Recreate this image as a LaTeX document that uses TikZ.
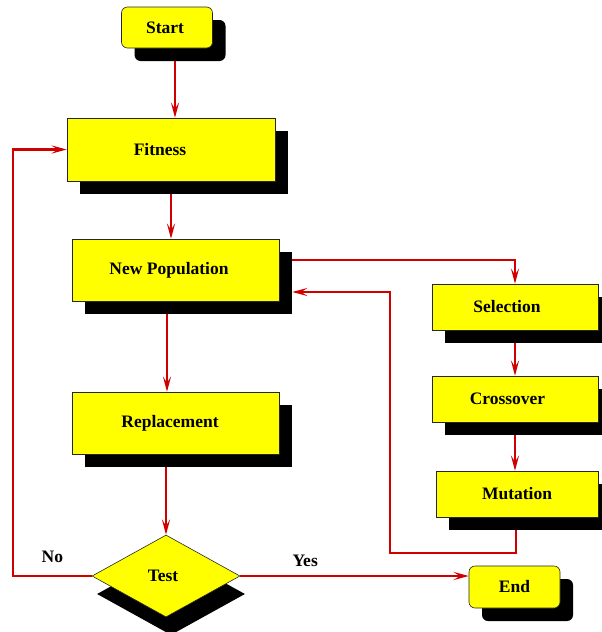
\documentclass[tikz,border=0pt]{standalone}
\usepackage{fontspec}
\setmainfont{Liberation Serif}
\usetikzlibrary{arrows.meta, positioning, shapes.geometric, shadows}

\definecolor{linkred}{RGB}{208,0,0}
\definecolor{boxyellow}{RGB}{255,255,0}

\begin{document}
\begin{tikzpicture}[
        x=1pt, y=-1pt,
        >={Stealth[length=15pt, width=8pt, inset=6pt]},
        every node/.style={font=\fontsize{17.5}{20}\selectfont\bfseries, inner sep=0pt},
        box/.style={rectangle, draw=black!85, line width=0.6pt, fill=boxyellow,
            drop shadow={shadow xshift=13pt, shadow yshift=-13pt, opacity=1, fill=black}},
        term/.style={box, rounded corners=6pt, minimum width=91pt, minimum height=41pt},
        proc/.style={box, minimum width=207pt, minimum height=62pt},
        op/.style={box, minimum width=166pt, minimum height=46pt},
        decision/.style={diamond, draw=black!85, line width=0.6pt, fill=boxyellow,
            minimum width=148pt, minimum height=82pt,
            drop shadow={shadow xshift=5pt, shadow yshift=-18pt, opacity=1, fill=black}},
        link/.style={linkred, line width=2.6pt, ->},
        answer/.style={text=black}
    ]
        \useasboundingbox (0,0) rectangle (602,632);

        % Main column
        \node [term] (start) at (167,27.5) {Start\hspace*{4pt}};
        \node [proc, minimum width=208pt, minimum height=63pt] (fitness) at (171,149.5) {Fitness\hspace*{22pt}};
        \node [proc] (newpop) at (175.5,270) {New Population\hspace*{13pt}};
        \node [proc] (replacement) at (175.5,423) {Replacement\hspace*{11pt}};
        \node [decision] (test) at (166,576) {Test\hspace*{6pt}};
        \node [term, minimum height=42pt] (end) at (514.5,587) {End};

        % Genetic operators
        \node [op] (selection) at (515,307) {Selection\hspace*{16pt}};
        \node [op] (crossover) at (515,399) {Crossover\hspace*{15pt}};
        \node [op, minimum width=162pt] (mutation) at (517,494) {Mutation};

        % Links down the main column
        \draw[link] ([xshift=8pt, yshift=-13pt]start.south) -- ([xshift=4pt]fitness.north);
        \draw[link] ([yshift=-13pt]fitness.south) -- (fitness.south |- newpop.north);
        \draw[link] ([xshift=-8.5pt, yshift=-13pt]newpop.south) -- ([xshift=-8.5pt]replacement.north);
        \draw[link] ([xshift=-9.5pt, yshift=-13pt]replacement.south) -- (test.north);

        % Loop through the operators
        \coordinate (back) at (390,553);
        \draw[link] ([xshift=13pt, yshift=10pt]newpop.east) -| (selection.north);
        \draw[link] ([yshift=-13pt]selection.south) -- (crossover.north);
        \draw[link] ([yshift=-13pt]crossover.south) -- (crossover.south |- mutation.north);
        \draw[link] ([xshift=-1pt, yshift=-13pt]mutation.south) |- (back) |- ([xshift=13pt, yshift=-22pt]newpop.east);

        % Test outcomes
        \coordinate (loop) at (13,149.5);
        \draw[link] (test.west) -| node[answer, pos=0.25, above=12pt] {No} (loop) -- (fitness.west);
        \draw[link] (test.east) -- node[answer, pos=0.284, above=8pt] {Yes} (test.east -| end.west);
    \end{tikzpicture}
\end{document}
